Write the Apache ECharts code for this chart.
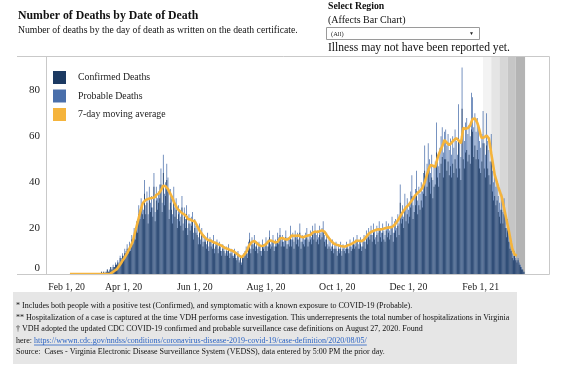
<!DOCTYPE html>
<html><head><meta charset="utf-8">
<script src="https://cdn.jsdelivr.net/npm/echarts@6/dist/echarts.min.js"></script>
<style>html,body{margin:0;padding:0;background:#fff;}#c{width:568px;height:375px;}</style>
</head><body><div id="c"></div>
<script>
// ---------- DATA ----------
const barStartDate = '2020-03-13';
const confirmedDeaths = [
1,0,1,0,1,2,1, 1,3,2,3,3,4,4, 5,4,7,6,8,7,9, 9,11,9,12,10,15,13, 17,15,20,18,26,24,28,26,
24,35,26,31,22,32,27, 29,25,38,23,32,28,31, 33,39,27,44,30,34,41, 36,24,31,28,22,32,25,
28,20,26,23,21,29,19, 25,20,26,17,22,19,21, 23,15,20,18,17,13,19, 13,17,12,14,14,11,15,
10,14,12,11,14,9,12, 13,9,12,10,8,11,10, 8,10,8,11,7,9,8, 7,9,7,6,8,5,7,
4,7,7,8,10,7,12, 15,9,13,11,14,10,12, 9,12,10,8,12,11,10, 13,10,12,16,11,12,14,
10,12,12,15,13,17,12, 14,12,12,16,11,13,12, 17,12,15,11,16,13,15, 12,18,11,14,13,12,15,
16,12,14,15,13,17,15, 18,14,15,13,17,15,16, 19,14,12,15,11,12,11, 10,12,9,11,11,8,11,
9,11,8,11,10,9,11, 11,9,12,10,11,13,11, 12,14,11,11,13,10,12, 14,11,15,13,16,15,17,
14,18,15,13,17,14,19, 16,14,18,15,14,19,16, 18,15,17,20,14,18,19, 16,21,17,31,22,24,20,
28,23,26,22,25,29,34, 24,27,30,36,26,30,28, 32,29,35,45,34,38,46, 40,35,42,33,38,39,53,
42,38,44,48,51,42,50, 50,45,49,43,47,42,48, 44,50,46,42,59,46,41, 72,50,46,53,54,49,52,
48,63,62,51,56,50,54, 50,46,44,49,57,46,42, 56,46,43,39,49,36,32, 34,30,32,27,25,22,28,
22,26,20,16,19,14,11, 10,7,6,8,6,5,6, 4,3,2,2,1
];
const probableDeaths = [
0,0,0,0,0,0,0, 1,0,0,1,0,1,0, 1,1,1,1,1,1,2, 1,2,2,2,2,2,2, 3,3,3,3,4,4,5,5,
4,6,4,5,4,6,4, 5,4,6,4,6,5,5, 6,7,4,8,5,6,7, 6,4,6,5,4,6,4,
5,4,4,4,4,5,3, 4,4,4,3,4,3,4, 4,3,4,3,3,3,3, 2,3,2,3,2,2,3,
2,2,3,2,3,2,2, 2,2,2,2,2,2,2, 1,2,2,2,2,2,2, 1,2,2,1,2,1,1,
1,1,2,2,2,2,2, 3,2,3,2,3,2,2, 2,2,2,2,3,2,2, 3,2,3,3,2,2,3,
2,3,2,3,3,3,3, 3,2,3,3,2,3,3, 4,3,3,3,3,3,3, 3,4,3,3,3,3,3,
4,3,3,4,3,4,3, 4,3,4,3,4,3,4, 4,3,3,3,2,3,3, 2,3,2,2,3,2,2,
2,3,2,2,2,2,3, 2,2,3,2,3,3,2, 3,3,2,3,3,2,3, 3,3,4,3,4,3,4,
3,4,4,3,4,4,4, 4,4,4,4,3,4,4, 4,4,4,5,4,5,5, 4,5,5,8,5,6,5,
7,6,7,6,6,7,9, 6,7,7,9,6,8,7, 8,7,9,11,8,10,11, 10,9,10,8,9,10,13,
10,9,11,12,13,11,12, 13,11,12,11,12,10,12, 11,13,12,10,15,11,10, 18,12,12,13,14,12,13,
12,16,15,13,14,12,14, 13,12,11,12,14,11,10, 14,12,11,10,12,9,8, 9,8,8,7,6,6,7,
5,7,5,4,5,4,3, 2,2,2,2,1,1,1, 1,1,1,0,0
];
const maStartDate = '2020-02-15';
const movingAverage = [
0,0,0,0,0,0,0,0,0,0,0,0,0,0,0,0,0,0,0,0,0,0,0,0,0,0,0,0,0,0,0,0,0,0,
0,0.3,0.6,1,1.3,1.7,2,2.7,3.4,4.1,
4.9,5.8,6.4,7.2,8,9,10,11,12,13.2,
14.4,16.5,18.5,20.5,22.5,24.5,26.5,28.5,30.3,31.2,
31.8,32.3,32.5,32.7,32.5,33,32.8,33.2,33,33.5,
34.5,34,35,35.3,36.5,37.5,38.5,39,38.2,38.5,
37,36.5,35,34,33,31.5,30.5,29.5,28.5,28,
27.5,27.5,26.5,26.8,26,25.5,25,24,23.5,23.8,
23,23.2,23,23,22,21,20,19,18.2,17.5,
16.8,16.2,15.8,15.3,15,14.7,14.5,14.5,14,13.8,
13.9,13.5,13.4,13,12.8,12.6,12.5,12,11.6,11.3,
11,11,10.8,10.5,10.3,10.2,10,9.6,9.2,8.8,
8.5,8,7.5,7.3,7.5,8.2,9,9.5,10.5,11.8,
12.8,13.5,14,14.2,14.4,14,13.5,13,12.6,12.5,
12.2,12.5,12.3,12.5,13,13.6,14.2,14.5,14.6,14.3,
14.2,13.8,13.7,13.6,14,14.8,15.5,15.9,15.7,15.5,
15.2,15.1,15,15,15.5,16.2,16.8,16.8,16.6,16.4,
16.7,17,16.8,16.5,16.2,16,16,16.2,16.5,16.6,
16.8,17,17,17.6,18,18.3,18.5,18.4,18.3,18.4,
18.6,18.8,19,19,18.5,17.8,17,16.2,15.6,15,
14.3,13.7,13.3,13,12.8,12.6,12.5,12.3,12.2,12,
12,11.8,12,12.3,12.5,12.6,12.8,13,13.3,13.6,
13.9,14.2,14.5,14.6,14.5,14.4,14.3,14.5,15,15.6,
16.3,17,17.5,18,18.3,18.6,18.8,19,19.2,19.4,
19.5,19.5,19.4,19.5,19.6,19.8,19.9,20,20.2,20.2,
20.3,20.4,20.5,20.6,21.3,22,22.6,23.3,24.2,25.1,
26,26.8,27.6,28.3,29,29.5,30,30.7,31.4,32.1,
32.8,33.5,34.3,35,35.4,35.8,36.2,36.5,37.5,38.8,
40,41.7,43.4,45,46.5,47.5,48,47.2,46.4,46.5,
48.5,50.5,52,53.3,54.5,55.7,57,58.4,58,57.2,
56.5,56.2,56.7,57.2,57.8,58.3,58.8,59.2,58.8,58.2,
57.6,57,60,63.6,63.4,63.3,63.2,63.6,64,64.8,
66.2,67.5,68,67.8,67.5,66,64.4,62.5,60.3,59.2,
59.4,59.6,60,60.4,60.7,59,56,52.6,49.5,46.3,
43.2,41.5,39.7,38,36.5,35,33.6,31.2,28.7,26.3,
23.9,21.5,19.1,16.4,13.7,11.1,9.8,8.5,8.2,8
];
const tickDates = ['2020-02-01','2020-04-01','2020-06-01','2020-08-01','2020-10-01','2020-12-01','2021-02-01'];
const tickLabels = ['Feb 1, 20','Apr 1, 20','Jun 1, 20','Aug 1, 20','Oct 1, 20','Dec 1, 20','Feb 1, 21'];
const yTicks = [0,20,40,60,80];
const axisRange = ['2020-01-25T12','2021-03-31T12'];
const shadeEdges = ['2021-02-03','2021-02-10','2021-02-17','2021-02-24','2021-03-03','2021-03-11'];
const shadeColors = ['#f3f3f3','#e5e5e5','#d7d7d7','#c6c6c6','#b4b4b4'];
const seriesNames = ['Confirmed Deaths','Probable Deaths','7-day moving average'];
const seriesColors = ['#1c3a62','#4a6fab','#f5b43c'];
const footnotes = [
 '* Includes both people with a positive test (Confirmed), and symptomatic with a known exposure to COVID-19 (Probable).',
 '** Hospitalization of a case is captured at the time VDH performs case investigation. This underrepresents the total number of hospitalizations in Virginia',
 '\u2020 VDH adopted the updated CDC COVID-19 confirmed and probable surveillance case definitions on August 27, 2020. Found',
 'here: ',
 'Source:  Cases - Virginia Electronic Disease Surveillance System (VEDSS), data entered by 5:00 PM the prior day.'
];
const footLink = 'https://wwwn.cdc.gov/nndss/conditions/coronavirus-disease-2019-covid-19/case-definition/2020/08/05/';

// ---------- HELPERS ----------
function toTime(s){
  const [dp, hp] = s.split('T');
  const [y,m,d] = dp.split('-').map(Number);
  return new Date(y, m-1, d, hp ? Number(hp) : 0).getTime();
}
function addDays(s, n){
  const [y,m,d] = s.split('-').map(Number);
  return new Date(y, m-1, d+n).getTime();
}
const SERIF = '"Liberation Serif", "Times New Roman", serif';
const tickTimes = tickDates.map(toTime);

const confData = confirmedDeaths.map((v,i)=>[addDays(barStartDate,i), v]);
const stackTopData = probableDeaths.map((v,i)=>[addDays(barStartDate,i), confirmedDeaths[i] + v]);
const maData = movingAverage.map((v,i)=>[addDays(maStartDate,i), v]);
const shadeAreas = shadeColors.map((c,i)=>[
  {xAxis: toTime(shadeEdges[i]), itemStyle:{color:c}},
  {xAxis: toTime(shadeEdges[i+1])}
]);

const cv = document.createElement('canvas').getContext('2d');
const footFont = '8px "Liberation Serif"';
cv.font = footFont;
const hereW = cv.measureText(footnotes[3]).width;
const linkW = cv.measureText(footLink).width;

const G = [];
const frameColor = '#c9c9c9';
G.push({type:'line', shape:{x1:17,y1:56.5,x2:549.5,y2:56.5}, style:{stroke:frameColor,lineWidth:1}, z:10});
G.push({type:'line', shape:{x1:17,y1:274.5,x2:549.5,y2:274.5}, style:{stroke:frameColor,lineWidth:1}, z:10});
G.push({type:'line', shape:{x1:549.5,y1:56.5,x2:549.5,y2:274.5}, style:{stroke:frameColor,lineWidth:1}, z:10});
G.push({type:'line', shape:{x1:46.5,y1:56.5,x2:46.5,y2:274.5}, style:{stroke:frameColor,lineWidth:1}, z:10});
G.push({type:'text', x:18, y:16, style:{text:'Number of Deaths by Date of Death', font:'bold 11.8px '+SERIF, fill:'#111', textVerticalAlign:'middle'}});
G.push({type:'text', x:18, y:30, style:{text:'Number of deaths by the day of death as written on the death certificate.', font:'9.7px '+SERIF, fill:'#111', textVerticalAlign:'middle'}});
G.push({type:'text', x:328, y:6.5, style:{text:'Select Region', font:'bold 9.8px '+SERIF, fill:'#111', textVerticalAlign:'middle'}});
G.push({type:'text', x:328, y:20, style:{text:'(Affects Bar Chart)', font:'10px '+SERIF, fill:'#111', textVerticalAlign:'middle'}});
G.push({type:'rect', shape:{x:326.5,y:27.5,width:153,height:12}, style:{fill:'#fff',stroke:'#9a9a9a',lineWidth:1}});
G.push({type:'text', x:331, y:34, style:{text:'(All)', font:'6.5px '+SERIF, fill:'#222', textVerticalAlign:'middle'}});
G.push({type:'text', x:469, y:33.5, style:{text:'\u25BC', font:'5px sans-serif', fill:'#222', textVerticalAlign:'middle'}});
G.push({type:'text', x:328, y:48, style:{text:'Illness may not have been reported yet.', font:'11.6px '+SERIF, fill:'#111', textVerticalAlign:'middle'}});
seriesNames.forEach((n,i)=>{
  G.push({type:'rect', shape:{x:53,y:71+i*18.5,width:13,height:13}, style:{fill:seriesColors[i]}});
  G.push({type:'text', x:78, y:77.5+i*18.5, style:{text:n, font:'9.8px '+SERIF, fill:'#222', textVerticalAlign:'middle'}});
});
G.push({type:'rect', shape:{x:13,y:292,width:504,height:72}, style:{fill:'#e6e6e6'}});
const footY = [306,317.5,329,340.5,352];
footnotes.forEach((t,i)=>{
  G.push({type:'text', x:16, y:footY[i], style:{text:t, font:footFont, fill:'#111', textVerticalAlign:'middle'}});
});
G.push({type:'text', x:16+hereW, y:footY[3], style:{text:footLink, font:footFont, fill:'#2a63c4', textVerticalAlign:'middle'}});
G.push({type:'line', shape:{x1:16+hereW,y1:footY[3]+4.5,x2:16+hereW+linkW,y2:footY[3]+4.5}, style:{stroke:'#2a63c4',lineWidth:0.8}});

const chart = echarts.init(document.getElementById('c'), null, {renderer:'canvas'});
chart.setOption({
  animation:false,
  backgroundColor:'#fff',
  grid:{left:46, right:19, top:56, bottom:101, containLabel:false},
  xAxis:{
    type:'value', min:toTime(axisRange[0]), max:toTime(axisRange[1]),
    axisLine:{show:false}, axisTick:{show:false}, splitLine:{show:false},
    axisLabel:{
      customValues: tickTimes,
      margin:8, color:'#222', fontFamily:SERIF, fontSize:9.8, hideOverlap:false,
      formatter:function(v){
        const i = tickTimes.findIndex(t=>Math.abs(t-v)<43200000);
        if(i<0) return '';
        return i===0 ? '{a|'+tickLabels[i]+'}' : tickLabels[i];
      },
      rich:{a:{padding:[0,0,0,26], fontFamily:SERIF, fontSize:9.8, color:'#222'}}
    }
  },
  yAxis:{
    type:'value', min:0, max:95, interval:20,
    axisLine:{show:false}, axisTick:{show:false}, splitLine:{show:false},
    axisLabel:{customValues:yTicks, margin:6, color:'#222', fontFamily:SERIF, fontSize:11,
      formatter:function(v){ if(v===0) return '{z|0}'; return yTicks.indexOf(v)>=0 ? String(v) : ''; },
      rich:{z:{padding:[0,0,11,0], fontFamily:SERIF, fontSize:11, color:'#222'}}}
  },
  series:[
    {type:'line', data:[], silent:true, z:0,
     markArea:{silent:true, data:shadeAreas}},
    {name:seriesNames[1], type:'bar', data:stackTopData, barWidth:0.75, barMinWidth:0.1, barGap:'-100%', z:1,
     itemStyle:{color:seriesColors[1]}},
    {name:seriesNames[0], type:'bar', data:confData, barWidth:0.75, barMinWidth:0.1, barGap:'-100%', z:2,
     itemStyle:{color:seriesColors[0]}},
    {name:seriesNames[2], type:'line', data:maData, showSymbol:false, z:5,
     lineStyle:{color:seriesColors[2], width:2.6}, itemStyle:{color:seriesColors[2]}}
  ],
  graphic:G
});
</script>
</body></html>
